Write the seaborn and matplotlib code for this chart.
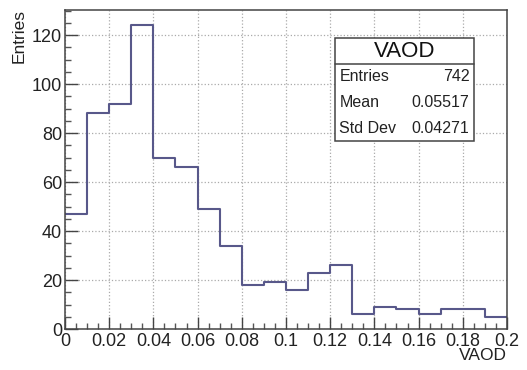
import numpy as np
import matplotlib
matplotlib.use("Agg")
import matplotlib.pyplot as plt
from matplotlib.ticker import MultipleLocator
from matplotlib.patches import Rectangle
from matplotlib.lines import Line2D
import seaborn as sns

# Histogram contents (bin width 0.01 from 0 to 0.2)
bin_edges = [round(0.01 * i, 2) for i in range(21)]
counts = [47, 88, 92, 124, 70, 66, 49, 34, 18, 19, 16, 23, 26, 6, 9, 8, 6, 8, 8, 5]
stat_labels = ["Entries", "Mean", "Std Dev"]
stat_values = ["742", "0.05517", "0.04271"]
hist_name = "VAOD"

sns.set_style("white")
plt.rcParams["font.family"] = ["Liberation Sans", "DejaVu Sans"]

centers = [(bin_edges[i] + bin_edges[i + 1]) / 2 for i in range(len(counts))]

fig = plt.figure(figsize=(5.27, 3.7), dpi=100)
ax = fig.add_axes([0.1233, 0.1108, 0.8387, 0.862])

sns.histplot(x=centers, weights=counts, bins=bin_edges, element="step",
             fill=False, color="#58588a", linewidth=1.5, ax=ax)

ax.set_xlim(0, 0.2)
ax.set_ylim(0, max(counts) * 1.05)
ax.xaxis.set_major_locator(MultipleLocator(0.02))
ax.xaxis.set_minor_locator(MultipleLocator(0.005))
ax.yaxis.set_major_locator(MultipleLocator(20))
ax.yaxis.set_minor_locator(MultipleLocator(5))
ax.set_xticks([round(0.02 * i, 2) for i in range(11)])
ax.set_xticklabels(["0", "0.02", "0.04", "0.06", "0.08", "0.1", "0.12",
                    "0.14", "0.16", "0.18", "0.2"])
ax.tick_params(which="both", bottom=True, left=True, top=False, right=False)
ax.tick_params(which="major", direction="in", length=9, width=1, colors="#444444",
               labelsize=13, labelcolor="#222222")
ax.tick_params(which="minor", direction="in", length=4.5, width=1, colors="#555555")
ax.tick_params(axis="x", pad=3)
ax.tick_params(axis="y", pad=2)
ax.grid(True, which="major", linestyle=":", color="#aaaaaa", linewidth=0.9)
for s in ax.spines.values():
    s.set_color("#444444")
    s.set_linewidth(1.1)

ax.set_xlabel("")
ax.set_ylabel("")
fig.text(0.962, 0.02, "VAOD", ha="right", va="bottom", fontsize=12.5, color="#222222")
fig.text(0.022, 0.975, "Entries", ha="left", va="top", rotation=90,
         fontsize=12.5, color="#222222")

# Stats box
x0, x1 = 0.611, 0.925
y0, y1 = 0.589, 0.912
ydiv = 0.831
ax.add_patch(Rectangle((x0, y0), x1 - x0, y1 - y0, transform=ax.transAxes,
                       facecolor="white", edgecolor="#444444", linewidth=1.1, zorder=5))
ax.add_line(Line2D([x0, x1], [ydiv, ydiv], transform=ax.transAxes,
                   color="#444444", linewidth=1.1, zorder=6))
ax.text((x0 + x1) / 2, (ydiv + y1) / 2, hist_name, transform=ax.transAxes,
        ha="center", va="center", fontsize=16, color="#111111", zorder=7)
row_h = (ydiv - y0) / 3
for i, (lab, val) in enumerate(zip(stat_labels, stat_values)):
    yy = ydiv - row_h * (i + 0.5)
    ax.text(x0 + 0.01, yy, lab, transform=ax.transAxes, ha="left", va="center",
            fontsize=11.5, color="#222222", zorder=7)
    ax.text(x1 - 0.01, yy, val, transform=ax.transAxes, ha="right", va="center",
            fontsize=11.5, color="#222222", zorder=7)

fig.savefig("out.png", dpi=100)
